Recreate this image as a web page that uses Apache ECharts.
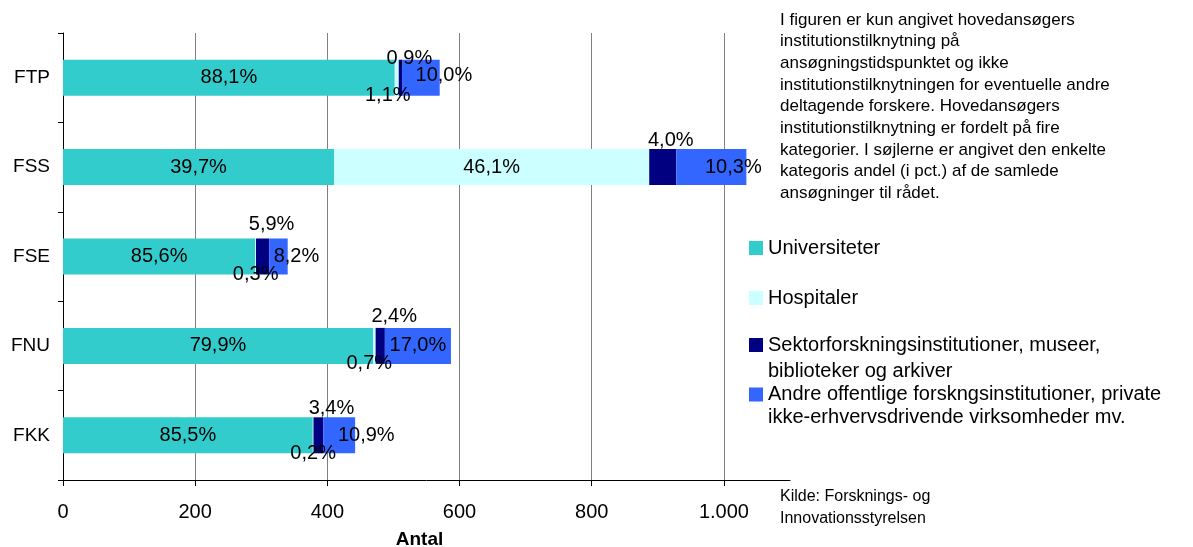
<!DOCTYPE html>
<html>
<head>
<meta charset="utf-8">
<script src="https://cdn.jsdelivr.net/npm/echarts@6/dist/echarts.min.js"></script>
<style>
html,body{margin:0;padding:0;background:#fff;}
#chart{width:1193px;height:547px;}
</style>
</head>
<body>
<div id="chart"></div>
<script>
// ---- data (counts of applications per council) ----
const categories = ['FTP', 'FSS', 'FSE', 'FNU', 'FKK'];
const universiteter = [502, 410, 291, 469, 378];
const hospitaler = [6, 477, 1, 4, 1];
const sektor = [5, 41, 20, 14, 15];
const andre = [57, 106, 28, 100, 48];
const seriesNames = [
  'Universiteter',
  'Hospitaler',
  'Sektorforskningsinstitutioner, museer, biblioteker og arkiver',
  'Andre offentlige forskngsinstitutioner, private ikke-erhvervsdrivende virksomheder mv.'
];
const xTicks = [0, 200, 400, 600, 800, 1000];
const noteText = 'I figuren er kun angivet hovedansøgers\ninstitutionstilknytning på\nansøgningstidspunktet og ikke\ninstitutionstilknytningen for eventuelle andre\ndeltagende forskere. Hovedansøgers\ninstitutionstilknytning er fordelt på fire\nkategorier. I søjlerne er angivet den enkelte\nkategoris andel (i pct.) af de samlede\nansøgninger til rådet.';
const sourceText = 'Kilde: Forsknings- og\nInnovationsstyrelsen';

// ---- label nudges (style only) ----
const hospNudge = [[-9, 0], [0, 0], [0, 0], [-5, 0], [0, 0]];
const sektorNudge = [[9, 10], [8, 2], [9, -3], [14, 0], [13, 2]];
const andreNudge = [[23, -2], [22, 0], [18, 0], [0, 0], [27, 0]];

const totals = categories.map((c, i) => universiteter[i] + hospitaler[i] + sektor[i] + andre[i]);
const pct = (v, i) => (v / totals[i] * 100).toFixed(1).replace('.', ',') + '%';
const FONT = '"Liberation Sans", Arial, sans-serif';
const colors = ['#33CCCC', '#CCFFFF', '#000080', '#3366FF'];

const lblBase = { show: true, color: '#000', fontSize: 20, fontFamily: FONT };
const legendText = (extra) => Object.assign({ fontSize: 20, color: '#000', fontFamily: FONT, lineHeight: 22 }, extra || {});

const chart = echarts.init(document.getElementById('chart'), null, { renderer: 'canvas' });

const legendDefs = [
  { data: [seriesNames[0]], left: 749, top: 237, textStyle: legendText() },
  { data: [seriesNames[1]], left: 749, top: 287, textStyle: legendText() },
  { data: [seriesNames[2]], left: 749, top: 306, textStyle: legendText({ lineHeight: 26 }),
    formatter: () => '\nSektorforskningsinstitutioner, museer,\nbiblioteker og arkiver' },
  { data: [seriesNames[3]], left: 749, top: 360, textStyle: legendText({ lineHeight: 23 }),
    formatter: () => '\nAndre offentlige forskngsinstitutioner, private\nikke-erhvervsdrivende virksomheder mv.' }
].map(l => Object.assign({
  orient: 'vertical', padding: 0, itemWidth: 14, itemHeight: 14, icon: 'rect', selectedMode: false
}, l));

const option = {
  animation: false,
  backgroundColor: '#fff',
  grid: { left: 63, right: 403, top: 33, bottom: 67, containLabel: false, outerBoundsMode: 'none' },
  xAxis: {
    type: 'value',
    min: 0, max: 1100, interval: 200,
    name: 'Antal',
    nameLocation: 'middle',
    nameGap: 50,
    nameTextStyle: { fontWeight: 'bold', fontSize: 19, color: '#000', fontFamily: FONT, padding: [0, 14, 0, 0] },
    axisLine: { show: true, lineStyle: { color: '#000', width: 1 } },
    axisTick: { show: true, length: 6, customValues: xTicks, lineStyle: { color: '#000' } },
    axisLabel: {
      customValues: xTicks,
      margin: 22,
      fontSize: 20, color: '#000', fontFamily: FONT,
      formatter: v => String(v).replace(/\B(?=(\d{3})+(?!\d))/g, '.')
    },
    splitLine: { show: true, showMinLine: false, showMaxLine: true,
      lineStyle: { color: '#808080', width: 1 } }
  },
  yAxis: {
    type: 'category',
    data: categories,
    inverse: true,
    axisLine: { show: true, lineStyle: { color: '#000', width: 1 } },
    axisTick: { show: true, length: 5, lineStyle: { color: '#000' } },
    axisLabel: { margin: 13, fontSize: 19, color: '#000', fontFamily: FONT },
    splitLine: { show: false }
  },
  legend: legendDefs,
  graphic: [
    { type: 'text', left: 780, top: 9, style: { text: noteText, fontSize: 17, lineHeight: 21.7, fill: '#000', fontFamily: FONT } },
    { type: 'text', left: 780, top: 486, style: { text: sourceText, fontSize: 16, lineHeight: 21.7, fill: '#000', fontFamily: FONT } }
  ],
  series: [
    {
      name: seriesNames[0], type: 'bar', stack: 'a', barWidth: 36,
      itemStyle: { color: colors[0] },
      label: Object.assign({}, lblBase, { position: 'inside', formatter: p => pct(p.value, p.dataIndex) }),
      data: universiteter
    },
    {
      name: seriesNames[1], type: 'bar', stack: 'a', barWidth: 36,
      itemStyle: { color: colors[1] },
      label: Object.assign({}, lblBase, { formatter: p => pct(p.value, p.dataIndex) }),
      data: hospitaler.map((v, i) => ({
        value: v,
        label: (v / totals[i] > 0.1)
          ? { position: 'inside' }
          : { position: ['50%', '100%'], align: 'center', verticalAlign: 'middle', offset: hospNudge[i] }
      }))
    },
    {
      name: seriesNames[2], type: 'bar', stack: 'a', barWidth: 36,
      itemStyle: { color: colors[2] },
      label: Object.assign({}, lblBase, { position: 'top', distance: 1, formatter: p => pct(p.value, p.dataIndex) }),
      data: sektor.map((v, i) => ({ value: v, label: { offset: sektorNudge[i] } }))
    },
    {
      name: seriesNames[3], type: 'bar', stack: 'a', barWidth: 36,
      itemStyle: { color: colors[3] },
      label: Object.assign({}, lblBase, { position: 'inside', formatter: p => pct(p.value, p.dataIndex) }),
      data: andre.map((v, i) => ({ value: v, label: { offset: andreNudge[i] } }))
    }
  ]
};
chart.setOption(option);
</script>
</body>
</html>
